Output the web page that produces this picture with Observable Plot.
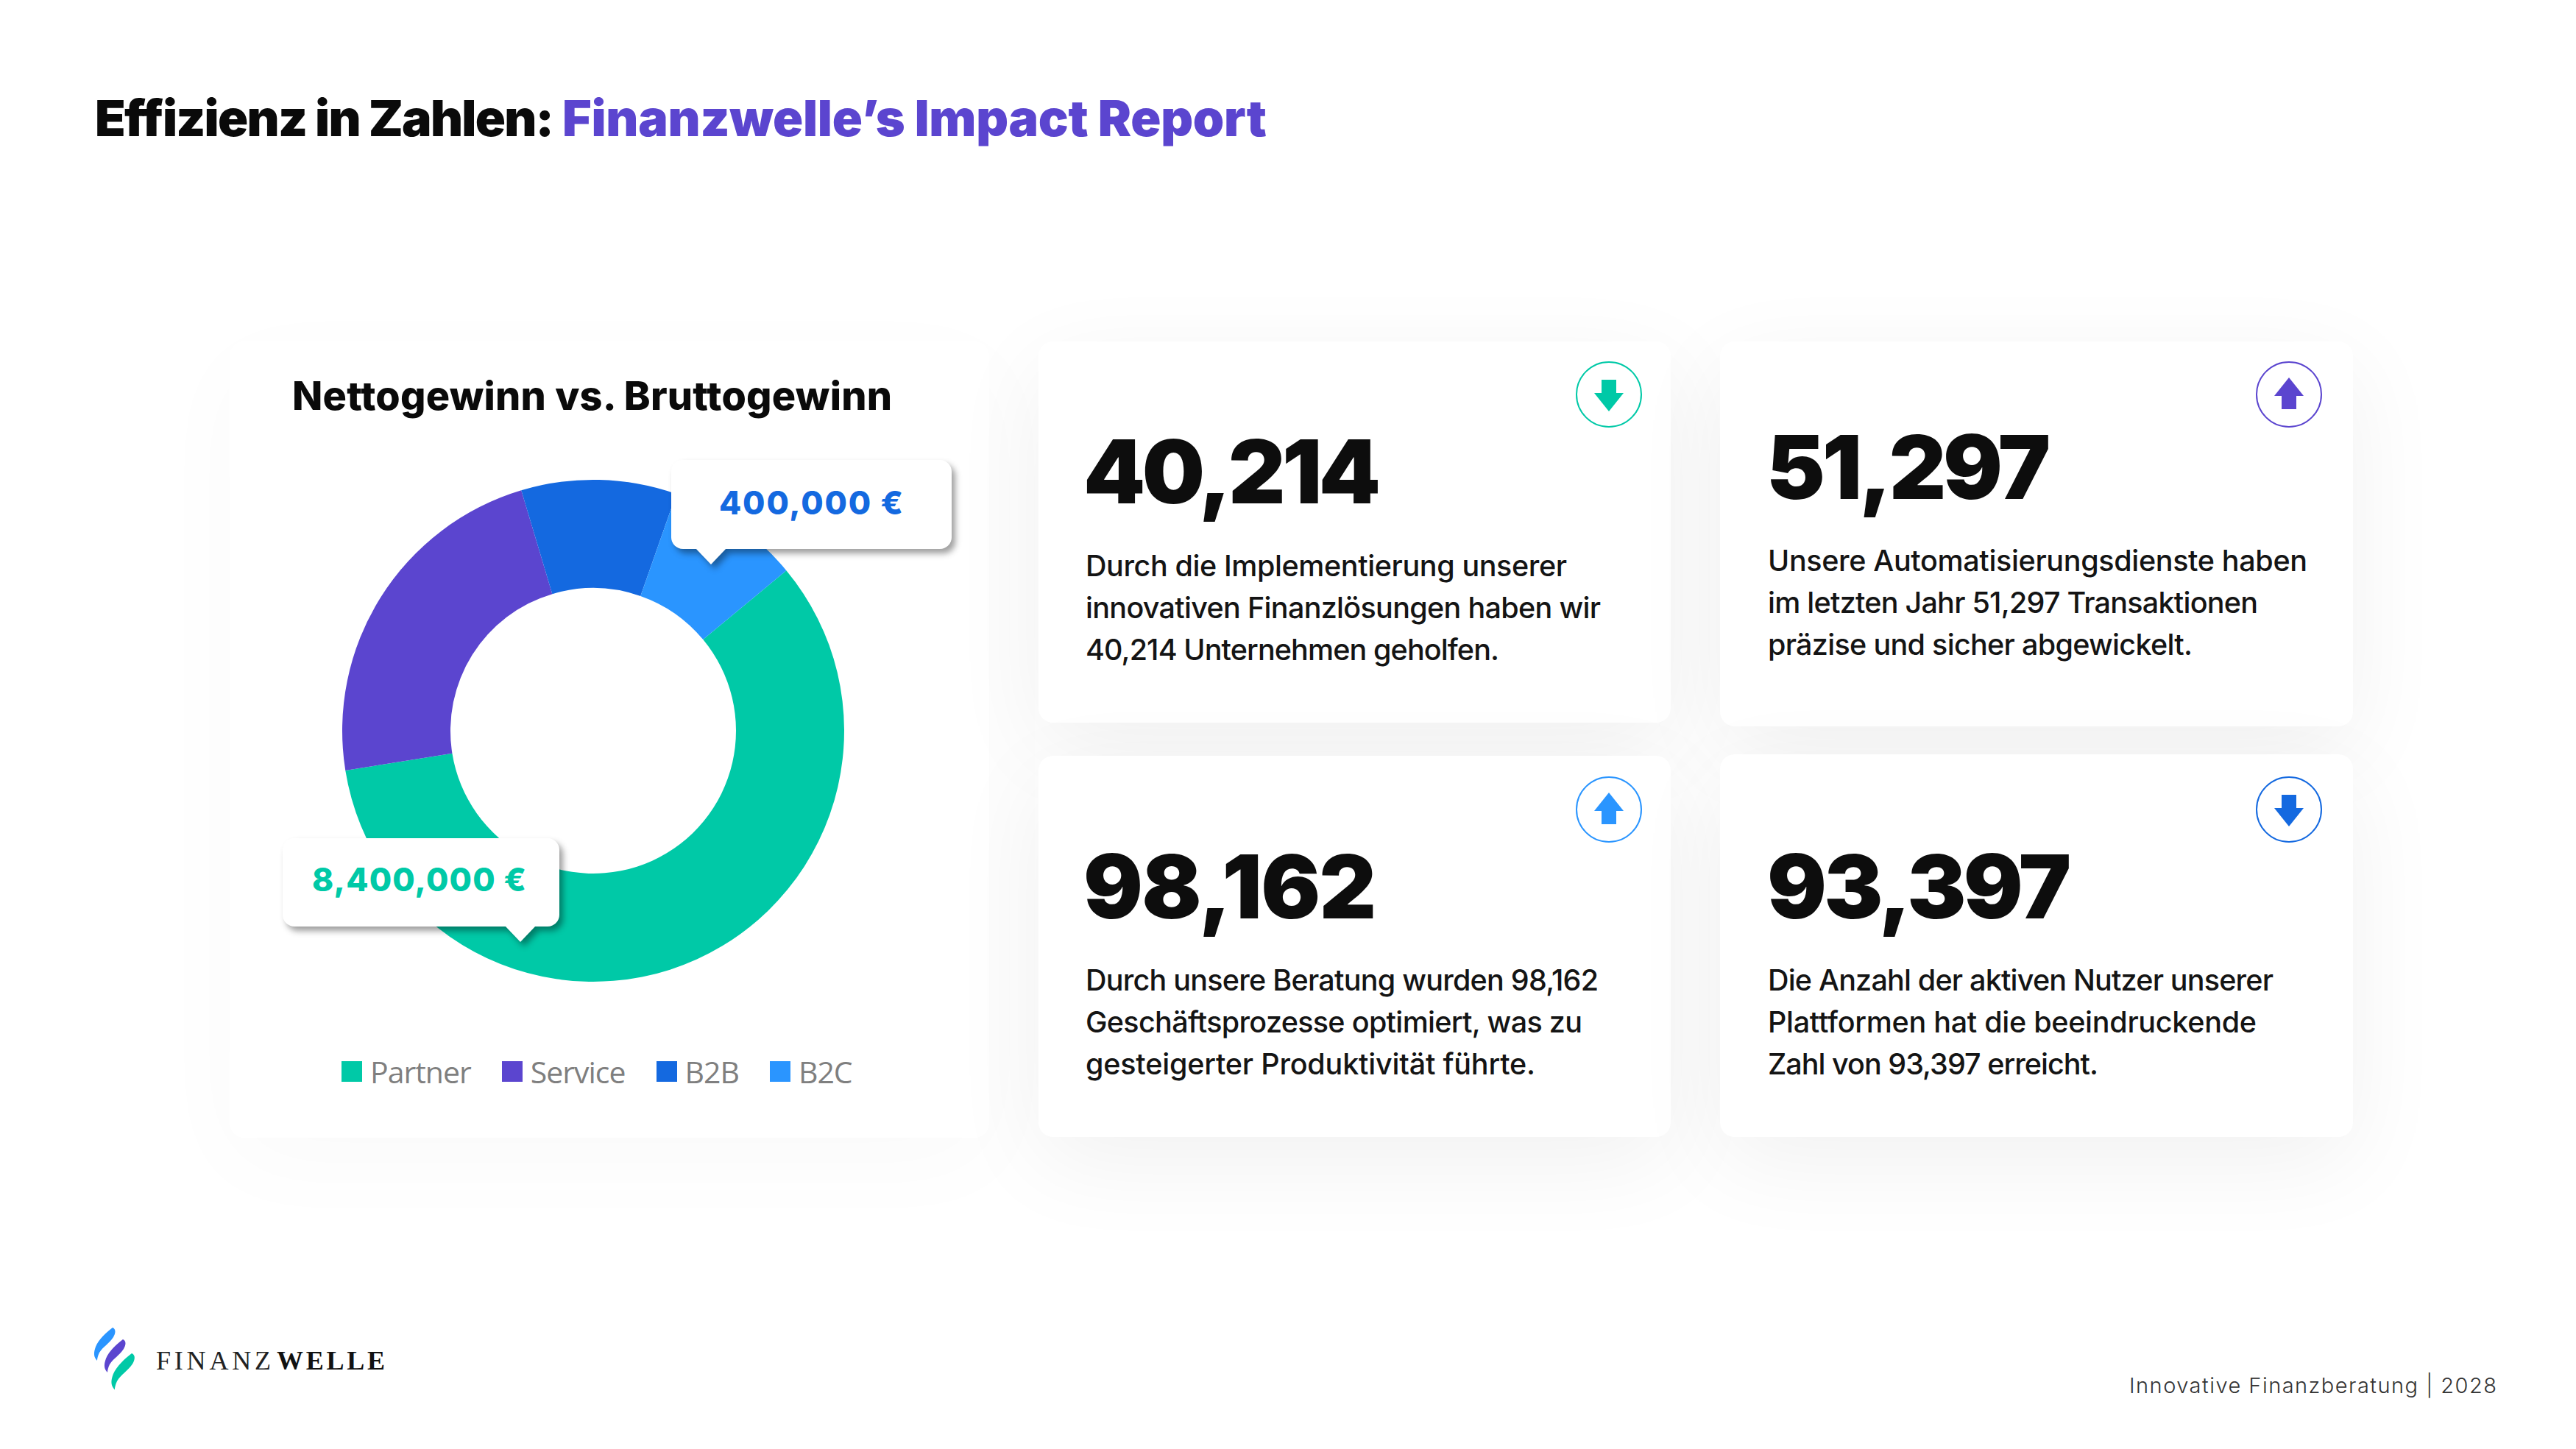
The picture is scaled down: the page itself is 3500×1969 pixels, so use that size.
<!DOCTYPE html>
<html lang="de"><head><meta charset="utf-8">
<script src="https://cdn.jsdelivr.net/npm/d3@7"></script>
<script src="https://cdn.jsdelivr.net/npm/@observablehq/plot@0.6"></script>
<style>
html,body{margin:0;background:#fff}
#page{position:relative;width:3500px;height:1969px;overflow:hidden;background:#fff}
.card{position:absolute;background:#fff;border-radius:20px;box-shadow:0 34px 130px rgba(0,0,0,.06)}
.card.soft{box-shadow:0 34px 130px rgba(0,0,0,.022)}
.t{position:absolute;white-space:nowrap;font-family:Inter,sans-serif;line-height:1.2}
.circle{position:absolute;border-radius:50%;border:2.5px solid;box-sizing:border-box;width:90px;height:90px;background:#fff}
.callout{position:absolute;filter:drop-shadow(5px 6px 4px rgba(0,0,0,.38))}
.callout .box{position:absolute;inset:0;background:#fff;border-radius:16px}
.callout .tip{position:absolute;width:0;height:0;border-left:21px solid transparent;border-right:21px solid transparent;border-top:22px solid #fff}
#plot{position:absolute;left:456px;top:643px}
#legend{position:absolute;left:464px;top:1428px}
.lg-swatches{font:41px "Open Sans",sans-serif!important;letter-spacing:-1px;color:#7f7f7f!important;margin:0!important;white-space:nowrap}
.lg-swatch{margin-right:42px!important}
.lg-swatch svg{margin-right:11px!important}
</style></head><body><div id="page"></div>
<script>
// ---- data ----
const segments = ["Partner","Service","B2B","B2C"];
const shares = [58.5,22.9,10.0,8.6];
const segmentColors = ["#00C9A7","#5B45CF","#1469E0","#2A95FF"];
const titleBlack = "Effizienz in Zahlen:";
const titlePurple = "Finanzwelle’s Impact Report";
const donutTitle = "Nettogewinn vs. Bruttogewinn";
const calloutA = "400,000 €";
const calloutB = "8,400,000 €";
const kpiValues = ["40,214","51,297","98,162","93,397"];
const kpiTexts = [
 ["Durch die Implementierung unserer","innovativen Finanzlösungen haben wir","40,214 Unternehmen geholfen."],
 ["Unsere Automatisierungsdienste haben","im letzten Jahr 51,297 Transaktionen","präzise und sicher abgewickelt."],
 ["Durch unsere Beratung wurden 98,162","Geschäftsprozesse optimiert, was zu","gesteigerter Produktivität führte."],
 ["Die Anzahl der aktiven Nutzer unserer","Plattformen hat die beeindruckende","Zahl von 93,397 erreicht."]
];
const footer = "Innovative Finanzberatung | 2028";
const brand = ["FINANZ","WELLE"];

// ---- layout ----
const page = document.getElementById("page");
function card(x,y,x2,y2,cls){const d=document.createElement("div");d.className="card"+(cls?" "+cls:"");
 d.style.cssText=`left:${x}px;top:${y}px;width:${x2-x}px;height:${y2-y}px`;page.appendChild(d);}
function text(s,x,base,size,weight,color,w,font,parent){
 const el=document.createElement("div");el.className="t";el.textContent=s;
 el.style.cssText=`left:${x}px;top:0;font-size:${size}px;font-weight:${weight};color:${color};`+(font?`font-family:${font};`:"");
 (parent||page).appendChild(el);
 if(w){const m=el.getBoundingClientRect().width;el.style.letterSpacing=((w-m)/(s.length-1))+"px";}
 const st=document.createElement("span");st.style.cssText="display:inline-block;width:0;height:0";el.appendChild(st);
 const off=st.getBoundingClientRect().bottom-el.getBoundingClientRect().top;st.remove();
 el.style.top=(base-off)+"px";return el;}
function icon(cx,cy,color,up){
 const c=document.createElement("div");c.className="circle";c.style.cssText=`left:${cx-45}px;top:${cy-45}px;border-color:${color}`;page.appendChild(c);
 const s=document.createElementNS("http://www.w3.org/2000/svg","svg");
 s.setAttribute("width",90);s.setAttribute("height",90);s.setAttribute("viewBox","-45 -45 90 90");
 s.style.cssText=`position:absolute;left:${cx-45}px;top:${cy-45}px`;
 const p=document.createElementNS("http://www.w3.org/2000/svg","polygon");
 p.setAttribute("points","-10,-20 10,-20 10,-2 20,-2 0,23 -20,-2 -10,-2");p.setAttribute("fill",color);
 if(up)p.setAttribute("transform","scale(1,-1)");s.appendChild(p);page.appendChild(s);}

// cards
card(312,464,1344,1546,"soft");
card(1411,464,2270,982);
card(2337,464,3197,987);
card(1411,1027,2270,1545);
card(2337,1025,3197,1545);

// header
text(titleBlack,129,185,68,900,"#0a0a0a",624);
text(titlePurple,764,185,68,900,"#5B45CF",957);
text(donutTitle,397,557,54,800,"#0a0a0a",815);

// donut via Plot: stacked bar whose x scale maps to clockwise radians
const slices = segments.map((name,i)=>({name,share:shares[i]}));
const startAngle = 50.3*Math.PI/180;
const outerR=341, innerR=194;
const chart = Plot.plot({
 width:700,height:700,margin:0,
 x:{axis:null,domain:[0,d3.sum(shares)],range:[startAngle,startAngle+2*Math.PI]},
 color:{domain:segments,range:segmentColors},
 marks:[Plot.barX(slices,Plot.stackX({x:"share",fill:"name",order:null,
  render(index,scales,values,dim){
   const g=d3.create("svg:g");
   const arc=d3.arc().innerRadius(innerR).outerRadius(outerR);
   for(const i of index){
    g.append("path").attr("transform",`translate(${dim.width/2},${dim.height/2})`)
     .attr("d",arc({startAngle:values.x1[i],endAngle:values.x2[i]})).attr("fill",values.fill[i]);
   }
   return g.node();
  }}))]
});
chart.id="plot";page.appendChild(chart);
const lg=chart.legend("color",{swatchSize:28,className:"lg"});
const lgw=document.createElement("div");lgw.id="legend";lgw.appendChild(lg);page.appendChild(lgw);

// callouts
function callout(x,y,x2,y2,tipx,s,tx,base,w,color){
 const c=document.createElement("div");c.className="callout";
 c.style.cssText=`left:${x}px;top:${y}px;width:${x2-x}px;height:${y2-y}px`;
 c.innerHTML=`<div class="box"></div><div class="tip" style="left:${tipx-x-21}px;top:${y2-y-1}px"></div>`;
 page.appendChild(c);
 text(s,tx,base,44,800,color,w);
}
callout(912,625,1293,746,966,calloutA,977,699,250,"#1469E0");
callout(384,1139,760,1259,707,calloutB,424,1211,291,"#00C9A7");

// KPI cards
const kx=[1472,2400,1472,2401];
const kbase=[684,678,1248,1248];
const kw=[404,386,398,413];
const bodyBase=[[783,840,897],[776,833,890],[1346,1403,1460],[1346,1403,1460]];
const bodyW=[[654,700,562],[733,666,577],[697,675,611],[687,664,449]];
const bodyX=[1475,2402,1475,2402];
kpiValues.forEach((v,i)=>{
 text(v,kx[i],kbase[i],120,900,"#0d0d0d",kw[i]);
 kpiTexts[i].forEach((l,j)=>text(l,bodyX[i],bodyBase[i][j],39.5,500,"#141414",bodyW[i][j]));
});
icon(2186,536,"#00C9A7",false);
icon(3110,536,"#5B45CF",true);
icon(2186,1100,"#2A95FF",true);
icon(3110,1100,"#1469E0",false);

// footer + logo
text(footer,2893,1893,29,300,"#333",499);
text(brand[0],212,1861,36,400,"#222",156,'"Liberation Serif",serif');
text(brand[1],376,1861,36,700,"#111",147,'"Liberation Serif",serif');
const ns="http://www.w3.org/2000/svg";
const logo=document.createElementNS(ns,"svg");
logo.setAttribute("width",100);logo.setAttribute("height",110);logo.setAttribute("viewBox","110 1795 100 110");
logo.style.cssText="position:absolute;left:110px;top:1795px";
const wave="M153 1804 C158 1806 157 1812 154 1817 C148 1826 140 1830 135 1838 C133 1842 132 1846 132 1849 C127 1844 127 1838 130 1830 C134 1820 145 1810 153 1804 Z";
[["#2A95FF",0,0,1],["#5B45CF",14,16,1],["#00C9A7",26,35,1.1]].forEach(([f,dx,dy,k])=>{
 const p=document.createElementNS(ns,"path");p.setAttribute("d",wave);p.setAttribute("fill",f);
 p.setAttribute("transform",`translate(${dx} ${dy}) translate(153 1804) scale(${k}) translate(-153 -1804)`);logo.appendChild(p);});
page.appendChild(logo);
</script></body></html>
